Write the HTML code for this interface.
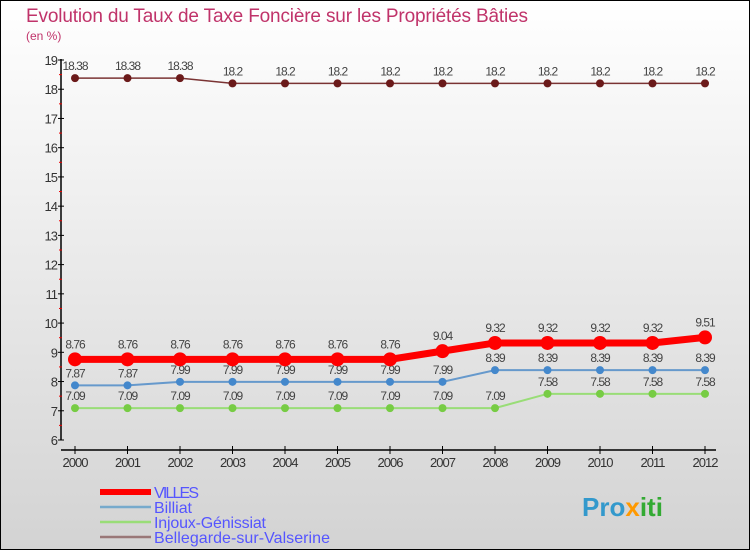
<!DOCTYPE html>
<html><head><meta charset="utf-8"><style>
html,body{margin:0;padding:0}
body{width:750px;height:550px;overflow:hidden;font-family:"Liberation Sans",sans-serif}
</style></head><body>
<svg id="c" width="750" height="550" xmlns="http://www.w3.org/2000/svg">
<defs><linearGradient id="bg" x1="0" y1="0" x2="0" y2="1"><stop offset="0" stop-color="#ffffff"/><stop offset="1" stop-color="#d3d3d3"/></linearGradient></defs>
<rect x="0.5" y="0.5" width="749" height="549" fill="url(#bg)" stroke="#000"/>
<text x="26" y="22" font-size="19" fill="#c0336a" textLength="502">Evolution du Taux de Taxe Foncière sur les Propriétés Bâties</text>
<text x="26" y="40" font-size="12" fill="#c0336a">(en %)</text>
<g id="axes"></g><g id="series"></g><g id="legend"></g>
<text x="582" y="516" font-size="26" font-weight="bold" fill="#3399cc">Pro<tspan fill="#ff9900">x</tspan><tspan fill="#33aa33">iti</tspan></text>
</svg>
<script>
const years=[2000,2001,2002,2003,2004,2005,2006,2007,2008,2009,2010,2011,2012];
const villes=[8.76,8.76,8.76,8.76,8.76,8.76,8.76,9.04,9.32,9.32,9.32,9.32,9.51];
const billiat=[7.87,7.87,7.99,7.99,7.99,7.99,7.99,7.99,8.39,8.39,8.39,8.39,8.39];
const injoux=[7.09,7.09,7.09,7.09,7.09,7.09,7.09,7.09,7.09,7.58,7.58,7.58,7.58];
const bellegarde=[18.38,18.38,18.38,18.2,18.2,18.2,18.2,18.2,18.2,18.2,18.2,18.2,18.2];
const yTicks=[6,7,8,9,10,11,12,13,14,15,16,17,18,19];
const NS="http://www.w3.org/2000/svg";
const x=i=>75+i*52.5;
const y=v=>440-(v-6)*(380/13);
function el(t,a,p){const e=document.createElementNS(NS,t);for(const k in a)e.setAttribute(k,a[k]);p.appendChild(e);return e;}
const ax=document.getElementById('axes');
let a=el('line',{x1:61,y1:59,x2:61,y2:440,stroke:'#000','stroke-width':1.5},ax);

a=el('line',{x1:61,y1:450,x2:716,y2:450,stroke:'#000','stroke-width':1.5},ax);

yTicks.forEach(v=>{
 el('line',{x1:58,y1:y(v),x2:64,y2:y(v),stroke:'#000'},ax);
 if(v<19){const m=el('line',{x1:59,y1:y(v+0.5),x2:62,y2:y(v+0.5),stroke:'#e00'},ax);}
 const t=el('text',{x:57,y:y(v)+5,'font-size':13,'text-anchor':'end',fill:'#333','letter-spacing':'-1'},ax);
 t.textContent=v;
});
years.forEach((yr,i)=>{
 el('line',{x1:x(i),y1:446,x2:x(i),y2:454,stroke:'#000'},ax);
 const t=el('text',{x:x(i),y:467,'font-size':13,'text-anchor':'middle',fill:'#333','letter-spacing':'-1'},ax);
 t.textContent=yr;
});
const sg=document.getElementById('series');
function series(vals,color,w,r,fill,name,dy){
 const g=el('g',{},sg);
 const pl=el('polyline',{points:vals.map((v,i)=>x(i)+','+y(v)).join(' '),fill:'none',stroke:color,'stroke-width':w},g);
 
 vals.forEach((v,i)=>{
  const c=el('circle',{cx:x(i),cy:y(v),r:r,fill:fill},g);
  
  const t=el('text',{x:x(i),y:y(v)+dy,'font-size':12,'text-anchor':'middle',fill:'#444','letter-spacing':'-1'},g);
  t.textContent=v;
 });
}
series(bellegarde,'#7a3333',1.5,4,'#6b1a1a','bellegarde',-8);
series(injoux,'#99dd77',2,4,'#77cc44','injoux',-8);
series(billiat,'#6699cc',2,4,'#4488cc','billiat',-8);
series(villes,'#ff0000',7,7,'#ff0000','villes',-11);
const lg=document.getElementById('legend');
const items=[['VILLES','#ff0000',6,45],['Billiat','#77aacc',2.5,38],['Injoux-Génissiat','#99dd77',2.5,112],['Bellegarde-sur-Valserine','#997777',2.5,176]];
items.forEach((it,i)=>{
 const yy=492+i*15;
 const l=el('line',{x1:100,y1:yy,x2:151,y2:yy,stroke:it[1],'stroke-width':it[2]},lg);
 
 const t=el('text',{x:154,y:yy+6,'font-size':16,fill:'#5555ff',textLength:it[3]},lg);
 t.textContent=it[0];
});
</script>
</body></html>
